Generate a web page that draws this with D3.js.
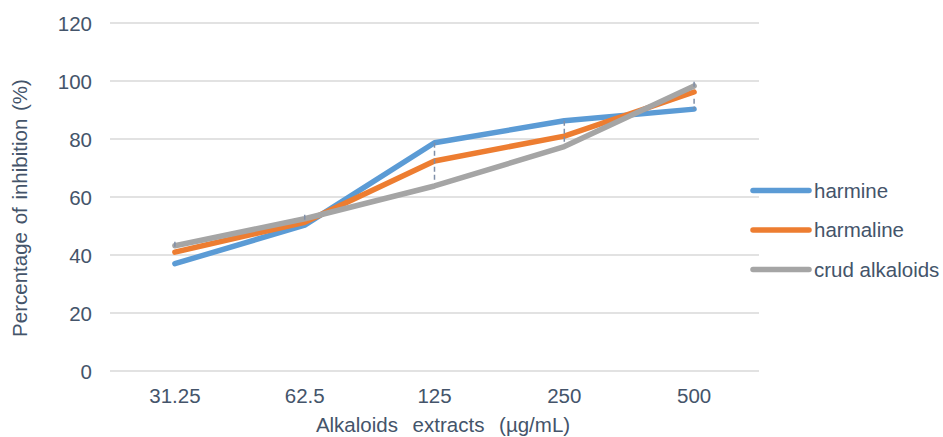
<!DOCTYPE html>
<html>
<head>
<meta charset="utf-8">
<script src="https://cdn.jsdelivr.net/npm/d3@7/dist/d3.min.js"></script>
<style>
  html, body { margin: 0; padding: 0; background: #ffffff; }
  svg { display: block; font-family: "Liberation Sans", Arial, sans-serif; }
</style>
</head>
<body>
<svg id="chart" width="943" height="437"></svg>
<script>
// Concentrations of the alkaloid extracts (x categories)
const concentrations = ["31.25", "62.5", "125", "250", "500"];

// Percentage of inhibition per extract
const harmine   = [37.0, 50.3, 78.7, 86.3, 90.3];
const harmaline = [41.0, 51.3, 72.4, 81.0, 96.2];
const crude     = [43.2, 52.5, 63.8, 77.4, 98.3];

// Error bar extents (plus / minus) per series
const harmineErrUp   = [0, 0, 0, 0, 3.6];
const harmineErrDown = [0, 0, 12.8, 7.6, 0];
const crudeErrUp     = [1.4, 1.4, 0, 0, 1.4];
const crudeErrDown   = [1.4, 1.4, 0, 0, 1.4];

const yTicks = [0, 20, 40, 60, 80, 100, 120];

const seriesNames  = ["harmine", "harmaline", "crud alkaloids"];
const seriesColors = ["#5b9bd5", "#ed7d31", "#a5a5a5"];

const series = [
  { name: seriesNames[0], color: seriesColors[0], values: harmine,   up: harmineErrUp, down: harmineErrDown },
  { name: seriesNames[1], color: seriesColors[1], values: harmaline, up: null, down: null },
  { name: seriesNames[2], color: seriesColors[2], values: crude,     up: crudeErrUp, down: crudeErrDown }
];

const textColor = "#44546a";
const gridColor = "#d9d9d9";
const errColor  = "#7f8fa9";

const plot = { left: 110, right: 759, top: 23, bottom: 371 };

const svg = d3.select("#chart");

const x = d3.scaleBand()
  .domain(concentrations)
  .range([plot.left, plot.right]);

const y = d3.scaleLinear()
  .domain([0, 120])
  .range([plot.bottom, plot.top]);

// Horizontal gridlines
svg.append("g")
  .selectAll("line")
  .data(yTicks)
  .join("line")
  .attr("x1", plot.left)
  .attr("x2", plot.right)
  .attr("y1", d => y(d))
  .attr("y2", d => y(d))
  .attr("stroke", gridColor)
  .attr("stroke-width", 1.3);

// Y axis tick labels
const yAxis = d3.axisLeft(y).tickValues(yTicks).tickSize(0).tickPadding(0);
const yg = svg.append("g").attr("transform", `translate(92,0)`).call(yAxis);
yg.select(".domain").remove();
yg.selectAll("text")
  .attr("fill", textColor)
  .attr("font-size", "20.5px")
  .attr("font-family", "Liberation Sans, Arial, sans-serif")
  .attr("dy", "0.35em");

// X axis tick labels
const xAxis = d3.axisBottom(x).tickSize(0).tickPadding(0);
const xg = svg.append("g").attr("transform", `translate(0,${plot.bottom})`).call(xAxis);
xg.select(".domain").remove();
xg.selectAll("text")
  .attr("fill", textColor)
  .attr("font-size", "20.5px")
  .attr("font-family", "Liberation Sans, Arial, sans-serif")
  .attr("dy", null)
  .attr("y", 32);

// Axis titles
svg.append("text")
  .attr("x", 443)
  .attr("y", 432)
  .attr("text-anchor", "middle")
  .attr("fill", textColor)
  .attr("font-size", "20.5px")
  .attr("word-spacing", "9px")
  .text("Alkaloids extracts (µg/mL)");

svg.append("text")
  .attr("transform", "translate(27,208) rotate(-90)")
  .attr("text-anchor", "middle")
  .attr("fill", textColor)
  .attr("font-size", "20.5px")
  .attr("word-spacing", "2px")
  .text("Percentage of inhibition (%)");

// Series lines
const cx = c => x(c) + x.bandwidth() / 2;
const line = d3.line()
  .x((d, i) => cx(concentrations[i]))
  .y(d => y(d));

svg.append("g")
  .selectAll("path")
  .data(series)
  .join("path")
  .attr("d", s => line(s.values))
  .attr("fill", "none")
  .attr("stroke", s => s.color)
  .attr("stroke-width", 5.5)
  .attr("stroke-linecap", "round")
  .attr("stroke-linejoin", "round");

// Error bars
const errData = [];
series.forEach(s => {
  if (!s.up) return;
  s.values.forEach((v, i) => {
    if (s.up[i] === 0 && s.down[i] === 0) return;
    errData.push({ c: concentrations[i], lo: v - s.down[i], hi: v + s.up[i] });
  });
});

svg.append("g")
  .selectAll("line")
  .data(errData)
  .join("line")
  .attr("x1", d => cx(d.c))
  .attr("x2", d => cx(d.c))
  .attr("y1", d => y(d.hi))
  .attr("y2", d => y(d.lo))
  .attr("stroke", errColor)
  .attr("stroke-width", 1.5)
  .attr("stroke-dasharray", "5,3");

// Legend
const legend = svg.append("g")
  .selectAll("g")
  .data(series)
  .join("g")
  .attr("transform", (s, i) => `translate(753,${190.5 + i * 39.5})`);

legend.append("line")
  .attr("x1", 0)
  .attr("x2", 56)
  .attr("stroke", s => s.color)
  .attr("stroke-width", 5.5)
  .attr("stroke-linecap", "round");

legend.append("text")
  .attr("x", 61)
  .attr("dy", "0.35em")
  .attr("fill", textColor)
  .attr("font-size", "20.5px")
  .text(s => s.name);
</script>
</body>
</html>
